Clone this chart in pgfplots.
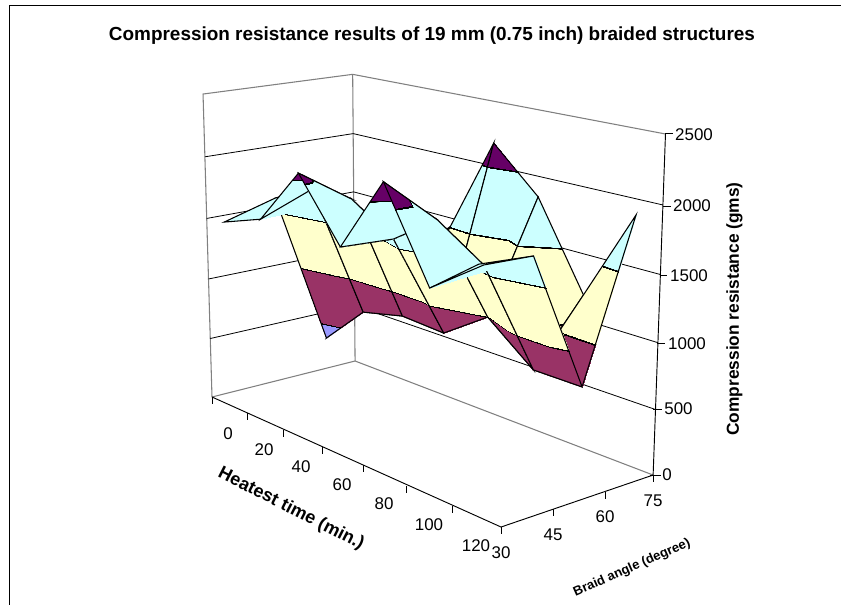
\documentclass[border=0pt]{standalone}
\usepackage{pgfplots}
\pgfplotsset{compat=1.18}
\usepackage{fontspec}
\setmainfont{Liberation Sans}
\def\U{((\thisrow{t}+10)/140)}
\def\V{((\thisrow{a}-30)/45)}
\def\W{(\thisrow{z}/2500)}
\def\DD{(1-0.1765*\U+0.0598*\V-0.043*\W)}
\pgfplotsset{table/prj/.style={
  x expr={(212+200.6*\U+164.3*\V-17.7*\W)/\DD},
  y expr={(397+37*\U-14.4*\V-307*\W)/\DD}}}
\definecolor{band0}{RGB}{153,153,255}
\definecolor{band1}{RGB}{153,51,102}
\definecolor{band2}{RGB}{255,255,204}
\definecolor{band3}{RGB}{204,255,255}
\definecolor{band4}{RGB}{102,0,102}
\definecolor{wallgray}{RGB}{128,128,128}
\newcommand\tl{\fontsize{12.7pt}{14pt}\selectfont}
\begin{document}
\begin{tikzpicture}
\path[use as bounding box] (0,0) rectangle (630.75pt,453.75pt);
\begin{axis}[
  scale only axis, width=630.75pt, height=453.75pt,
  xmin=0, xmax=841, ymin=0, ymax=605, y dir=reverse,
  hide axis, clip=true,
  point meta min=0, point meta max=2500,
  colormap={excelbands}{
    color(0pt)=(band0); color(494pt)=(band0); color(495pt)=(black); color(505pt)=(black); color(506pt)=(band1);
    color(994pt)=(band1); color(995pt)=(black); color(1005pt)=(black); color(1006pt)=(band2);
    color(1494pt)=(band2); color(1495pt)=(black); color(1505pt)=(black); color(1506pt)=(band3);
    color(1994pt)=(band3); color(1995pt)=(black); color(2005pt)=(black); color(2006pt)=(band4);
    color(2500pt)=(band4)
  },
]
% chart frame
\addplot[black, line width=0.9pt, forget plot] coordinates {(9.3,605) (9.3,5.7) (841,5.7)};
% walls and floor
\addplot[wallgray, line width=0.8pt] table[prj]{
t a z
-10 30 0
-10 30 2500
-10 75 2500
130 75 2500
};
\addplot[wallgray, line width=0.8pt] table[prj]{
t a z
-10 75 0
-10 75 2500
};
\addplot[wallgray, line width=0.8pt] table[prj]{
t a z
-10 30 0
-10 75 0
130 75 0
};
% gridlines
\addplot[black, line width=0.6pt] table[prj]{
t a z
-10 30 500
-10 75 500
130 75 500
};
\addplot[black, line width=0.6pt] table[prj]{
t a z
-10 30 1000
-10 75 1000
130 75 1000
};
\addplot[black, line width=0.6pt] table[prj]{
t a z
-10 30 1500
-10 75 1500
130 75 1500
};
\addplot[black, line width=0.6pt] table[prj]{
t a z
-10 30 2000
-10 75 2000
130 75 2000
};
% surface, painted from the back rows to the front rows
\addplot[surf, shader=faceted interp, faceted color=black, line width=0.8pt, mesh/cols=7, mesh/rows=4, point meta=\thisrow{z}] table[prj]{
t a z
0 75 1000
20 75 1100
40 75 1430
60 75 2178
80 75 1843
100 75 1189
120 75 1884
0 60 366
20 60 703
40 60 783
60 60 760
80 60 1001
100 60 714
120 60 713
0 45 1636
20 45 1794
40 45 1800
60 45 1584
80 45 1820
100 45 1588
120 45 1752
0 30 1516
20 30 1630
40 30 2070
60 30 1605
80 30 2170
100 30 1510
120 30 1780
};
% axes
\addplot[black, line width=0.7pt] table[prj]{
t a z
-10 30 0
130 30 0
130 75 0
130 75 2500
};
% tick marks
\draw[black, line width=0.6pt]
  (axis cs:212,397)--(axis cs:212,404) (axis cs:247,413)--(axis cs:247,420)
  (axis cs:283,430)--(axis cs:283,437) (axis cs:322,447)--(axis cs:322,454)
  (axis cs:363,465)--(axis cs:363,472) (axis cs:406,486)--(axis cs:406,493)
  (axis cs:452,506)--(axis cs:452,513) (axis cs:501,527)--(axis cs:501,534)
  (axis cs:553,509)--(axis cs:553,516) (axis cs:605,492)--(axis cs:605,499)
  (axis cs:653,475)--(axis cs:653,482)
  (axis cs:650,475)--(axis cs:661,475) (axis cs:653,409)--(axis cs:662,409)
  (axis cs:657,343)--(axis cs:665,343) (axis cs:660,275)--(axis cs:667,275)
  (axis cs:663,206)--(axis cs:671,206) (axis cs:665,133)--(axis cs:673,133);
\node[font=\tl] at (axis cs:228,434) {0};
\node[font=\tl] at (axis cs:264,450) {20};
\node[font=\tl] at (axis cs:301,467) {40};
\node[font=\tl] at (axis cs:342,485) {60};
\node[font=\tl] at (axis cs:384,504) {80};
\node[font=\tl] at (axis cs:429,525) {100};
\node[font=\tl] at (axis cs:476,546) {120};
\node[font=\tl] at (axis cs:501,553) {30};
\node[font=\tl] at (axis cs:553,535) {45};
\node[font=\tl] at (axis cs:605,517) {60};
\node[font=\tl] at (axis cs:653,501) {75};
\node[font=\tl] at (axis cs:667,475) {0};
\node[font=\tl] at (axis cs:678.5,409) {500};
\node[font=\tl] at (axis cs:687,344) {1000};
\node[font=\tl] at (axis cs:689,276) {1500};
\node[font=\tl] at (axis cs:692,206) {2000};
\node[font=\tl] at (axis cs:694,135) {2500};
\node[font=\fontsize{14.2pt}{16pt}\selectfont\bfseries] at (axis cs:432,36) {Compression resistance results of 19 mm (0.75 inch) braided structures};
\node[font=\fontsize{13.5pt}{16pt}\selectfont\bfseries, rotate=-27] at (axis cs:291,509) {Heatest time (min.)};
\node[font=\fontsize{9.8pt}{12pt}\selectfont\bfseries, rotate=24] at (axis cs:632,568) {Braid angle (degree)};
\node[font=\fontsize{13pt}{14pt}\selectfont\bfseries, rotate=90] at (axis cs:734.5,309) {Compression resistance (gms)};
\end{axis}
\end{tikzpicture}
\end{document}
